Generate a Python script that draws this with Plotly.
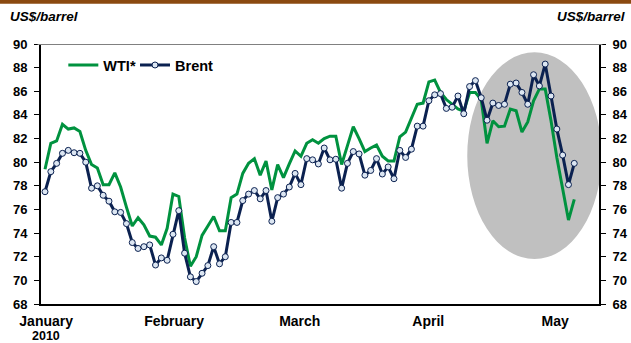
import plotly.graph_objects as go

# Daily crude oil spot prices, January to early May 2010 (US$/barrel)
day_index = list(range(92))

brent = [
    77.5, 79.2, 79.9, 80.75, 81.0, 80.8, 80.75, 80.0, 77.8, 78.0,
    77.2, 76.7, 75.8, 75.75, 74.8, 73.2, 72.7, 72.85, 73.0, 71.3,
    71.9, 71.7, 73.9, 75.9, 72.3, 70.3, 69.9, 70.6, 71.25, 72.85,
    71.4, 72.0, 74.9, 74.9, 76.75, 77.3, 77.6, 76.9, 77.6, 75.0,
    77.0, 77.3, 77.9, 79.05, 78.1, 80.3, 80.2, 79.85, 81.2, 80.2,
    80.25, 77.8, 79.9, 80.9, 80.7, 78.9, 79.3, 80.3, 79.0, 79.6,
    78.6, 81.0, 80.4, 81.1, 83.05, 83.05, 85.2, 85.7, 85.8, 84.55,
    84.65, 85.6, 84.1, 86.4, 86.9, 85.45, 83.55, 85.0, 84.8, 84.9,
    86.6, 86.7, 85.9, 84.9, 87.4, 86.45, 88.3, 85.6, 82.8, 80.6,
    78.1, 79.9,
]

wti = [
    79.4, 81.6, 81.8, 83.2, 82.8, 82.9, 82.6, 81.0, 79.8, 79.5,
    78.1, 78.1, 79.1, 77.9, 76.2, 74.6, 75.3, 74.7, 73.75, 73.65,
    73.0, 74.4, 77.3, 77.1, 73.6, 71.2, 72.0, 73.8, 74.6, 75.4,
    74.2, 74.2, 77.0, 77.3, 79.05, 79.9, 80.3, 78.9, 80.1, 77.65,
    79.8, 78.7, 79.85, 80.95, 80.5, 81.6, 81.9, 81.6, 82.0, 82.2,
    82.2, 79.8, 81.4, 83.0, 82.0, 80.9, 81.2, 81.45, 80.5, 80.1,
    80.1, 82.15, 82.55, 83.8, 84.9, 85.0, 86.8, 86.95, 85.9, 85.3,
    84.9, 84.5, 84.3, 85.9, 85.9, 85.3, 81.6, 83.5, 83.0, 83.05,
    84.5, 84.35, 82.55, 83.4, 85.2, 86.2, 86.2, 83.5, 80.4, 77.7,
    75.1, 76.85,
]

month_pos = [0.2, 22.2, 43.8, 65.9, 87.7]
month_labels = ["January", "February", "March", "April", "May"]
year_label = "2010"

y_ticks = list(range(68, 91, 2))

GREEN = "#00923f"
NAVY = "#0b2150"
FONT = "Liberation Sans, Arial, sans-serif"

fig = go.Figure()

fig.add_trace(go.Scatter(
    x=day_index, y=wti, name="WTI*", mode="lines",
    line=dict(color=GREEN, width=3), yaxis="y", legend="legend",
))
fig.add_trace(go.Scatter(
    x=day_index, y=brent, name="Brent", mode="lines+markers",
    line=dict(color=NAVY, width=3), yaxis="y2", legend="legend2",
    marker=dict(symbol="circle", size=6, color="#dce6f2",
                line=dict(color=NAVY, width=1)),
))

# highlighted recent period
fig.add_shape(type="circle", xref="x", yref="y", layer="below",
              x0=72.6, x1=95.7, y0=71.8, y1=89.3,
              fillcolor="#c0c0c0", line=dict(width=0))

# top rule at 90
fig.add_shape(type="line", xref="paper", yref="y", x0=-0.006, x1=1.006,
              y0=90, y1=90, line=dict(color="#808080", width=2))

# brown band across the top of the figure
fig.add_shape(type="rect", xref="paper", yref="paper",
              x0=-0.1, x1=1.1, y0=1.155, y1=1.2,
              fillcolor="#8b4a10", line=dict(width=0))

unit_font = dict(family=FONT, size=13.5, color="black", weight="bold", style="italic")
fig.add_annotation(text="US$/barrel", xref="paper", yref="paper",
                   x=-0.06, y=1.105, xanchor="left", yanchor="middle",
                   showarrow=False, font=unit_font)
fig.add_annotation(text="US$/barrel", xref="paper", yref="paper",
                   x=1.05, y=1.105, xanchor="right", yanchor="middle",
                   showarrow=False, font=unit_font)

# year under the first month label
fig.add_annotation(text=year_label, xref="x", yref="paper",
                   x=month_pos[0], y=-0.123, xanchor="center", yanchor="middle",
                   showarrow=False,
                   font=dict(family=FONT, size=12.5, color="black", weight="bold"))

tick_font = dict(family=FONT, size=13, color="black", weight="bold")

yaxis_common = dict(
    range=[68, 90], tickvals=y_ticks, showgrid=False, zeroline=False,
    showline=True, linecolor="black", linewidth=2,
    ticks="outside", ticklen=5, tickcolor="black", tickwidth=1,
    tickfont=tick_font, ticklabelstandoff=4, automargin=False,
)

legend_font = dict(family=FONT, size=14.5, color="black", weight="bold")

fig.update_layout(
    width=631, height=343,
    margin=dict(l=41, r=32, t=44, b=39),
    paper_bgcolor="white", plot_bgcolor="white",
    xaxis=dict(
        range=[-0.69, 95.25], tickvals=month_pos, ticktext=month_labels,
        showgrid=False, zeroline=False, showline=True,
        linecolor="black", linewidth=2, ticks="",
        tickfont=dict(family=FONT, size=14, color="black", weight="bold"),
        ticklabelstandoff=3, automargin=False,
    ),
    yaxis=yaxis_common,
    yaxis2=dict(**yaxis_common, overlaying="y", side="right"),
    legend=dict(
        orientation="h", x=0.04, y=0.919, xanchor="left", yanchor="middle",
        bgcolor="rgba(0,0,0,0)", font=legend_font,
    ),
    legend2=dict(
        orientation="h", x=0.1685, y=0.919, xanchor="left", yanchor="middle",
        bgcolor="rgba(0,0,0,0)", font=legend_font,
    ),
    showlegend=True,
)

fig.write_html("out.html")
